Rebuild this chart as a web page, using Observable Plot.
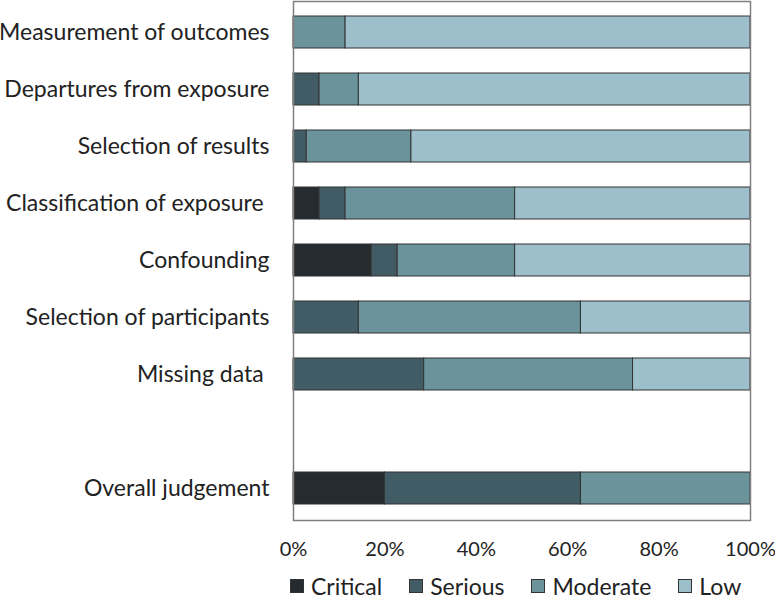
<!DOCTYPE html>
<html>
<head>
<meta charset="utf-8">
<script src="https://cdn.jsdelivr.net/npm/d3@7"></script>
<script src="https://cdn.jsdelivr.net/npm/@observablehq/plot@0.6"></script>
<style>
  html, body { margin: 0; padding: 0; background: #fff; }
  body { width: 775px; height: 601px; overflow: hidden; font-family: Lato, sans-serif; }
  #chart svg { display: block; }
  #legend { display: flex; align-items: center; margin-left: 290px; margin-top: 5px; height: 30px; font-size: 23px; color: #222; }
  #legend .item { display: flex; align-items: center; margin-right: 27px; }
  #legend .sw { width: 14px; height: 14px; border: 1px solid #333; margin-right: 7px; box-sizing: border-box; }
</style>
</head>
<body>
<div id="chart"></div>
<div id="legend"></div>
<script>
const categories = [
  "Measurement of outcomes",
  "Departures from exposure",
  "Selection of results",
  "Classification of exposure\u00a0",
  "Confounding",
  "Selection of participants",
  "Missing data\u00a0",
  "(spacer)",
  "Overall judgement"
];
const levels = ["Critical", "Serious", "Moderate", "Low"];
const colors = ["#262b2f", "#415c64", "#6b939b", "#9dbecb"];
// percent of studies per category (blank spacer row has none)
const critical = [0,    0,    0,    5.7,  17.1, 0,    0,    null, 20.0];
const serious  = [0,    5.7,  2.9,  5.7,  5.7,  14.3, 28.6, null, 42.9];
const moderate = [11.4, 8.6,  22.9, 37.1, 25.7, 48.6, 45.7, null, 37.1];
const low      = [88.6, 85.7, 74.2, 51.5, 51.5, 37.1, 25.7, null, 0];
const xTicks = [0, 20, 40, 60, 80, 100];

const series = [critical, serious, moderate, low];
const data = [];
categories.forEach((c, i) => {
  levels.forEach((l, j) => {
    const v = series[j][i];
    if (v) data.push({category: c, level: l, value: v});
  });
});

const chart = Plot.plot({
  width: 775,
  height: 566,
  marginTop: 1,
  marginBottom: 46,
  marginLeft: 293,
  marginRight: 25,
  style: {fontFamily: "Lato, sans-serif", color: "#222", background: "#fff"},
  x: {domain: [0, 100], ticks: xTicks, tickFormat: d => d + "%", label: null},
  y: {domain: categories, paddingInner: 0.43, paddingOuter: 0.215, label: null},
  color: {domain: levels, range: colors},
  marks: [
    Plot.barX(data, {x: "value", y: "category", fill: "level", stroke: "#333", strokeWidth: 1, order: levels}),
    Plot.frame({stroke: "#808080", strokeWidth: 1.5}),
    Plot.axisX({ticks: xTicks, tickFormat: d => d + "%", tickSize: 0, tickPadding: 21, fontSize: 20, label: null}),
    Plot.axisY({ticks: categories.filter(c => c !== "(spacer)"), tickSize: 0, tickPadding: 24, fontSize: 23, label: null})
  ]
});
document.getElementById("chart").appendChild(chart);

const lg = document.getElementById("legend");
levels.forEach((l, i) => {
  const it = document.createElement("div");
  it.className = "item";
  const sw = document.createElement("div");
  sw.className = "sw";
  sw.style.background = colors[i];
  const t = document.createElement("span");
  t.textContent = l;
  it.appendChild(sw);
  it.appendChild(t);
  lg.appendChild(it);
});
</script>
</body>
</html>
